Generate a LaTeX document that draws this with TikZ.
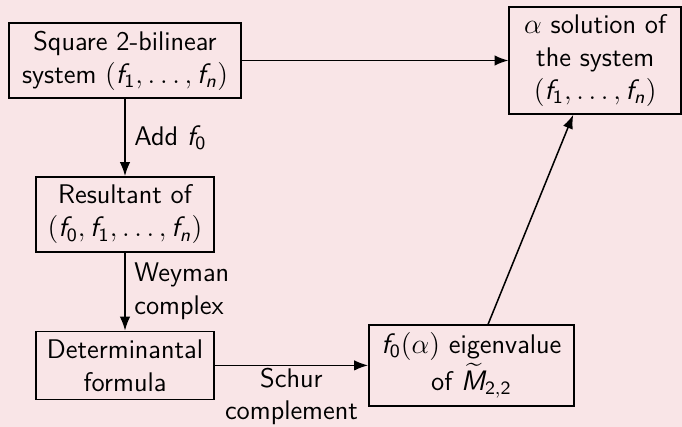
\documentclass[tikz,border=0pt,11pt]{standalone}
\usepackage{amsmath}
\usetikzlibrary{arrows.meta,positioning}
\definecolor{slidebg}{RGB}{249,229,231}
% sans serif letters and digits in formulas, as on the slide
\DeclareSymbolFont{sfletters}{OT1}{cmss}{m}{sl}
\DeclareSymbolFont{sfdigits}{OT1}{cmss}{m}{n}
\DeclareMathSymbol{f}{\mathalpha}{sfletters}{`f}
\DeclareMathSymbol{n}{\mathalpha}{sfletters}{`n}
\DeclareMathSymbol{M}{\mathalpha}{sfletters}{`M}
\DeclareMathSymbol{0}{\mathalpha}{sfdigits}{`0}
\DeclareMathSymbol{1}{\mathalpha}{sfdigits}{`1}
\DeclareMathSymbol{2}{\mathalpha}{sfdigits}{`2}

\begin{document}
\begin{tikzpicture}[x=0.015cm,y=-0.015cm,->,>=Latex,line width=0.65pt,
                    node distance=1.16cm and 2.3cm,
                    font=\fontsize{11.5}{14.1}\selectfont\sffamily,
                    stage/.style={draw, align=center, inner sep=2pt}]
  \useasboundingbox[fill=slidebg] (0,0) rectangle (682,427);
  \node[stage, minimum width=3.48cm, minimum height=1.125cm] (sys) at (125,60.5)
        {Square 2-bilinear\\system $(f_1,\dots,f_n)$};
  \node[stage, minimum width=2.58cm, minimum height=1.605cm, right=4cm of sys] (sol)
        {$\alpha$ solution of\\the system\\$(f_1,\dots,f_n)$};
  \node[stage, minimum width=2.67cm, minimum height=1.125cm, below=of sys] (res)
        {Resultant of\\$(f_0,f_1,\dots,f_n)$};
  \node[stage, minimum width=2.67cm, minimum height=1.02cm, below=1.17cm of res] (det)
        {Determinantal\\formula};
  \node[stage, minimum width=3.075cm, minimum height=1.215cm, right=of det] (eig)
        {$f_0(\alpha)$ eigenvalue\\of $\widetilde{M}_{2,2}$};
  \path
    (sys) edge (sol)
    (sys) edge node[right]{Add $f_0$} (res)
    (res) edge node[right,align=left]{Weyman\\complex} (det)
    (det) edge node[below,align=center,inner sep=1pt,
                    font=\fontsize{11.5}{13.6}\selectfont\sffamily]{Schur\\complement} (eig)
    (eig) edge (sol);
\end{tikzpicture}
\end{document}
